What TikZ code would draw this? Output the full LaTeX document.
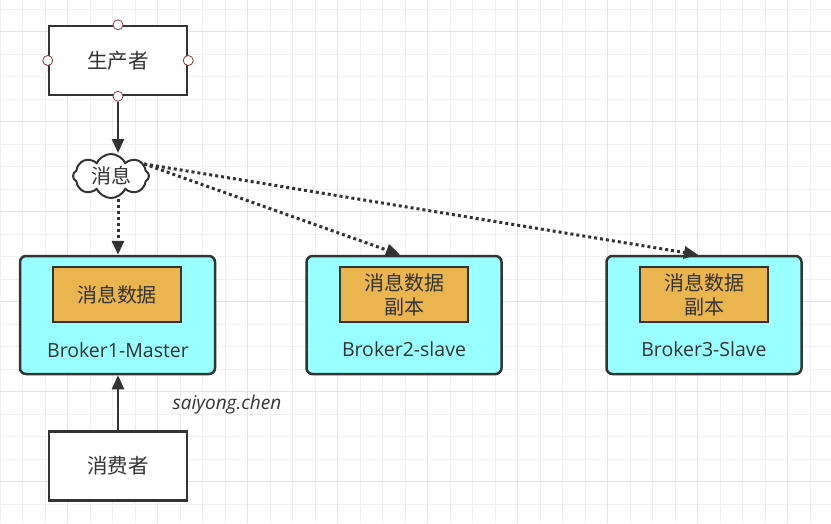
\documentclass[tikz,border=0pt]{standalone}
\usepackage{fontspec}
\setmainfont{Open Sans}
\newfontfamily\cjk{Noto Sans CJK SC}
\usetikzlibrary{shapes.symbols,arrows.meta}
\definecolor{ink}{HTML}{333333}
\definecolor{gridminor}{HTML}{F0F0F0}
\definecolor{gridmajor}{HTML}{E4E4E4}
\definecolor{cyanfill}{HTML}{99FFFF}
\definecolor{orangefill}{HTML}{EAB54E}
\definecolor{portred}{HTML}{8A3D3D}
\tikzset{
  plainbox/.style={draw=ink,line width=2.5pt,fill=white,minimum width=138pt,minimum height=69pt,inner sep=0pt,font=\cjk\fontsize{20.5}{24}\selectfont,text=ink},
  brokerbox/.style={draw=ink,line width=2.5pt,fill=cyanfill,rounded corners=6pt,minimum width=195pt,minimum height=118pt,inner sep=0pt},
  databox/.style={draw=ink,line width=2.5pt,fill=orangefill,minimum width=128pt,minimum height=55pt,inner sep=0pt,align=center,font=\cjk\fontsize{20}{24}\selectfont,text=ink},
  blabel/.style={font=\fontsize{19.5}{23}\selectfont,text=ink,inner sep=0pt},
  port/.style={circle,draw=portred,line width=0.8pt,fill=white,minimum size=10pt,inner sep=0pt},
  solidarrow/.style={draw=ink,line width=2.5pt,-{Triangle[length=14pt,width=12pt]}},
  dotarrow/.style={draw=ink,line width=3pt,dash pattern=on 3pt off 3pt,-{Triangle[length=14pt,width=12pt]}},
}
\begin{document}
\begin{tikzpicture}[x=1pt,y=-1pt]
\useasboundingbox (0,0) rectangle (831,523);
\fill[white] (0,0) rectangle (831,523);
% grid
\foreach \k in {0,...,36} \draw[gridminor,line width=1pt] ({0.2+22.5*\k},0) -- ({0.2+22.5*\k},523);
\foreach \k in {0,...,22} \draw[gridminor,line width=1pt] (0,{9+22.5*\k}) -- (831,{9+22.5*\k});
\foreach \k in {0,...,8} \draw[gridmajor,line width=1pt] ({67.7+90*\k},0) -- ({67.7+90*\k},523);
\foreach \k in {0,...,5} \draw[gridmajor,line width=1pt] (0,{31.7+90*\k}) -- (831,{31.7+90*\k});

% producer
\node[plainbox] (prod) at (118,60.5) {生产者};
\foreach \a in {north,south,east,west} \node[port] (p\a) at (prod.\a) {};

% cloud
\node[cloud,cloud puffs=8,cloud puff arc=130,aspect=1.9,draw=ink,line width=2pt,fill=white,minimum width=76pt,minimum height=44pt,inner sep=0pt,font=\cjk\fontsize{20}{24}\selectfont,text=ink] (msg) at (111,176) {消息};

% brokers
\node[brokerbox] (b1) at (117.5,315) {};
\node[databox] (d1) at (117,294.5) {消息数据};
\node[blabel] (l1) at (118,350) {Broker1-Master};

\node[brokerbox] (b2) at (404,315) {};
\node[databox] (d2) at (404,294.5) {消息数据\\副本};
\node[blabel] (l2) at (404,349) {Broker2-slave};

\node[brokerbox] (b3) at (704,315) {};
\node[databox] (d3) at (704,294.5) {消息数据\\副本};
\node[blabel] (l3) at (704,349) {Broker3-Slave};

% consumer
\node[plainbox] (cons) at (118,466) {消费者};

\node[font=\itshape\fontsize{19}{22}\selectfont,text=ink,inner sep=0pt] (sig) at (227,405) {saiyong.chen};

% connectors
\draw[solidarrow] (psouth) -- (msg.north -| psouth);
\draw[dotarrow] (msg.south -| psouth) -- (b1.north -| psouth);
\draw[dotarrow] (msg.20) -- ([xshift=-4pt]b2.north);
\draw[dotarrow] (msg.20) -- ([xshift=-6pt]b3.north);
\draw[solidarrow] (cons.north) -- (b1.south -| cons.north);
\end{tikzpicture}
\end{document}
